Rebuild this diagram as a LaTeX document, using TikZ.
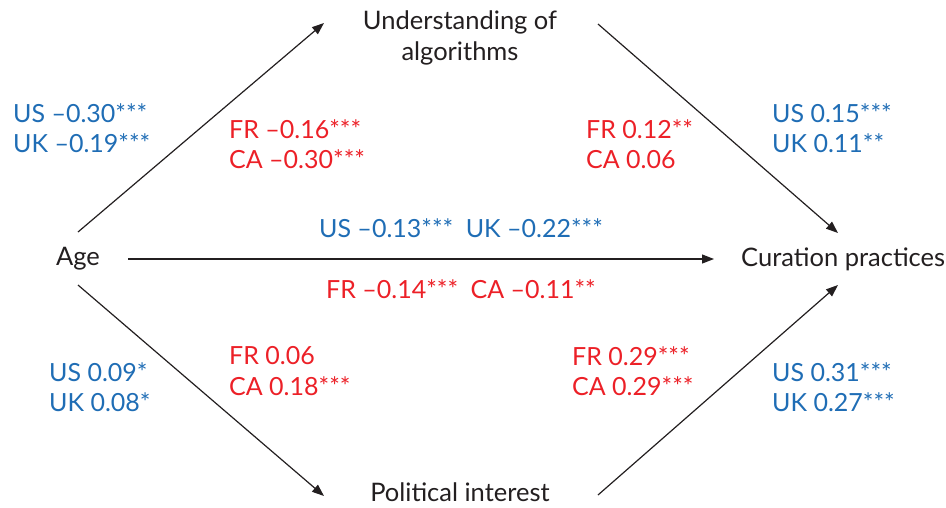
\documentclass[tikz,border=0pt]{standalone}
\usepackage{fontspec}
\setmainfont{Lato}
\usetikzlibrary{arrows.meta}
\definecolor{blu}{HTML}{1F6DB5}
\definecolor{rd}{HTML}{EC2027}
\definecolor{ink}{HTML}{231F20}
\begin{document}
\begin{tikzpicture}[x=1pt,y=-1pt,
  txt/.style={font=\fontsize{25.5}{31}\selectfont, inner sep=0pt, text=ink},
  lbl/.style={font=\fontsize{25}{30.5}\selectfont, inner sep=0pt, align=left, anchor=west},
  blab/.style={lbl, text=blu},
  rlab/.style={lbl, text=rd},
  conn/.style={draw=ink, line width=1.2pt, -{Triangle[length=12pt,width=9pt]}}]
\useasboundingbox (0,0) rectangle (946,507);
% main nodes
\node[txt] (age) at (78,259) {Age};
\node[txt, anchor=west] (cur) at (741,259) {Curation practices};
\node[txt, align=center] (und) at (460,38) {Understanding of\\algorithms};
\node[txt] (pol) at (460,492) {Political interest};
% connector end points
\coordinate (a1) at (78,232);
\coordinate (u1) at (324,23);
\coordinate (u2) at (598,24);
\coordinate (c1) at (838,233);
\coordinate (a2) at (128,259);
\coordinate (c2) at (714,259);
\coordinate (a3) at (78,285);
\coordinate (p1) at (324,496);
\coordinate (p2) at (598,495);
\coordinate (c3) at (838,285);
\draw[conn] (a1) -- (u1);
\draw[conn] (u2) -- (c1);
\draw[conn] (a2) -- (c2);
\draw[conn] (a3) -- (p1);
\draw[conn] (p2) -- (c3);
% labels
\node[blab] (l1) at (13,128) {US –0.30***\\UK –0.19***};
\node[rlab] (l2) at (229,144) {FR –0.16***\\CA –0.30***};
\node[rlab] (l3) at (586,144) {FR 0.12**\\CA 0.06};
\node[blab] (l4) at (772,128) {US 0.15***\\UK 0.11**};
\node[blab, anchor=center] (l5) at (461,228) {US –0.13***\enspace UK –0.22***};
\node[rlab, anchor=center] (l6) at (461,289) {FR –0.14***\enspace CA –0.11**};
\node[blab] (l7) at (49,387) {US 0.09*\\UK 0.08*};
\node[rlab] (l8) at (229,371) {FR 0.06\\CA 0.18***};
\node[rlab] (l9) at (572,371) {FR 0.29***\\CA 0.29***};
\node[blab] (l10) at (772,387) {US 0.31***\\UK 0.27***};
\end{tikzpicture}
\end{document}
